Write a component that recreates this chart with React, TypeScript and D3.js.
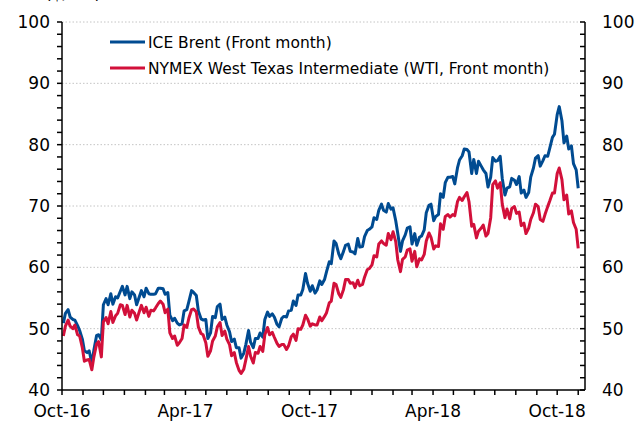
import React from "react";
import * as d3 from "d3";

// twice-weekly closes (Mon, Thu) from 3 Oct 2016 to 1 Nov 2018, $/bbl
const brent = [
  50.9, 52.5, 53.1, 51.9, 51.5, 51.4, 50.5, 49.7, 48.3, 46.4,
  46.1, 46.4, 44.4, 46.5, 48.9, 49.0, 48.2, 53.9,
  54.9, 53.9, 55.7, 54.0, 55.2, 55.0, 56.1, 56.9,
  55.5, 56.9, 54.9, 56.0, 55.5, 53.9, 55.2, 56.2, 55.2, 56.6,
  55.7, 55.6, 55.6, 55.7, 56.6, 56.6, 56.5, 55.6,
  55.9, 52.2, 51.3, 51.7, 50.9, 50.6, 50.8, 52.9,
  53.1, 54.4, 56.2, 55.9, 55.4, 52.9, 51.6, 51.4,
  51.5, 48.4, 49.3, 52.0, 51.8, 53.6, 54.0, 51.5, 51.9, 50.6,
  49.5, 47.9, 48.3, 46.9, 46.9, 45.2, 46.0, 47.4,
  49.7, 47.8, 46.9, 48.4, 48.4, 49.3, 48.6, 51.5, 52.7, 52.0,
  52.4, 51.9, 50.7, 50.3, 51.7, 52.0, 51.9, 52.9,
  53.0, 54.5, 53.8, 55.5, 55.5, 56.4, 59.0, 57.4,
  56.1, 57.0, 55.8, 56.3, 57.8, 57.2, 58.0, 59.3, 60.9, 60.6,
  64.3, 63.9, 62.2, 61.4, 62.6, 63.6, 63.8, 62.6,
  62.5, 62.2, 64.7, 63.3, 63.4, 65.0, 66.0, 66.2,
  66.6, 68.1, 67.8, 69.3, 70.3, 69.3, 69.0, 70.4, 69.5, 69.7,
  67.6, 65.5, 62.6, 64.3, 65.3, 66.4, 66.6, 63.8,
  65.5, 63.6, 64.9, 65.1, 66.1, 68.9, 70.1, 70.3,
  67.6, 68.3, 68.6, 72.0, 71.4, 73.8, 74.7, 74.7, 74.8, 73.6,
  76.2, 77.5, 78.2, 79.3, 79.2, 78.8, 75.3, 77.6,
  75.3, 77.3, 76.5, 75.9, 75.3, 73.1, 74.7, 77.9,
  77.3, 77.4, 78.1, 74.5, 71.8, 72.9, 73.1, 74.5, 74.2, 73.5,
  74.8, 72.1, 72.6, 71.4, 72.2, 74.7, 76.2, 77.8,
  78.2, 76.5, 77.4, 78.2, 78.1, 79.4, 81.2, 81.7,
  84.9, 86.2, 83.9, 80.3, 81.4, 79.3, 79.8, 76.9, 75.9, 72.9,
];

const wti = [
  48.8, 50.4, 51.4, 50.4, 50.0, 50.6, 49.0, 48.8, 46.9, 44.7,
  44.9, 45.0, 43.3, 45.4, 47.5, 47.9, 45.4, 51.1,
  51.8, 50.8, 52.8, 51.0, 52.1, 52.5, 53.9, 53.8,
  52.3, 53.8, 51.9, 53.0, 52.5, 51.4, 52.8, 53.8, 52.6, 53.5,
  52.0, 53.0, 52.9, 53.4, 54.1, 54.5, 54.0, 52.6,
  53.2, 49.3, 48.4, 48.8, 47.3, 47.7, 48.4, 50.6,
  50.2, 51.7, 53.1, 53.2, 52.7, 50.3, 49.2, 49.0,
  47.7, 45.5, 46.4, 48.0, 48.8, 50.3, 51.0, 48.9, 49.6, 48.3,
  47.4, 45.6, 46.1, 44.5, 43.2, 42.7, 43.4, 44.9,
  47.1, 45.5, 44.4, 46.1, 46.0, 47.1, 46.3, 49.0, 50.2, 49.0,
  49.4, 48.6, 47.6, 47.1, 47.4, 47.4, 46.6, 47.2,
  48.7, 49.1, 48.1, 50.0, 49.9, 50.6, 52.2, 51.6,
  50.4, 50.8, 50.6, 50.6, 51.9, 51.3, 52.0, 52.6, 54.2, 54.5,
  57.4, 57.2, 55.7, 55.1, 56.4, 58.0, 58.0, 57.4,
  57.5, 56.7, 57.9, 57.0, 57.2, 58.4, 59.6, 59.8,
  60.4, 61.9, 61.7, 63.8, 64.3, 63.9, 63.6, 65.5, 64.5, 65.8,
  64.2, 61.2, 59.3, 61.3, 61.7, 62.8, 63.0, 61.0,
  62.6, 60.1, 61.4, 61.2, 62.1, 64.3, 65.6, 64.9,
  63.0, 63.5, 63.4, 67.1, 66.2, 68.3, 68.6, 68.2, 68.6, 68.4,
  70.7, 71.4, 70.9, 71.5, 72.2, 70.7, 66.7, 67.0,
  64.8, 65.9, 66.4, 66.9, 65.1, 65.5, 68.1, 73.5,
  74.1, 72.9, 73.8, 70.3, 68.1, 69.5, 67.9, 69.6, 69.9, 68.8,
  69.0, 66.8, 67.2, 65.5, 66.4, 67.8, 68.9, 70.3,
  69.9, 67.8, 67.5, 68.6, 69.9, 70.8, 72.1, 72.1,
  75.3, 76.2, 74.3, 71.0, 71.8, 68.7, 69.2, 67.3, 66.2, 63.1,
];

const seriesNames = [
  "ICE Brent (Front month)",
  "NYMEX West Texas Intermediate (WTI, Front month)",
];
const yTicks = [40, 50, 60, 70, 80, 90, 100];
const labelMonths = [3, 9]; // Apr, Oct

const BLUE = "#004b91";
const RED = "#d2103a";
const FONT = "'DejaVu Sans', Arial, sans-serif";

const W = 638;
const H = 423;
const left = 62;
const right = 585;
const top = 22;
const bottom = 390;

const start = new Date(2016, 9, 3);
const dateAt = (i: number) =>
  d3.timeDay.offset(start, 7 * Math.floor(i / 2) + (i % 2) * 3);

export default function App() {
  const x = d3
    .scaleTime()
    .domain([new Date(2016, 9, 1), new Date(2018, 10, 11)])
    .range([left, right]);
  const y = d3.scaleLinear().domain([40, 100]).range([bottom, top]);

  const line = d3
    .line<number>()
    .x((_, i) => x(dateAt(i)))
    .y((v) => y(v));

  const months = d3.timeMonth.range(new Date(2016, 9, 1), new Date(2018, 10, 11));
  const minorY = d3.range(40, 100.1, 2);
  const fmt = d3.timeFormat("%b-%y");

  return (
    <svg
      width={W}
      height={H}
      style={{ position: "absolute", left: 0, top: 0, background: "#fff" }}
      fontFamily={FONT}
    >
      <text x={45} y={-1} fontSize={17} fill="#000">
        ($/bbl)
      </text>

      {/* grid */}
      {yTicks.slice(1).map((t) => (
        <line
          key={t}
          x1={left}
          x2={right}
          y1={y(t)}
          y2={y(t)}
          stroke="#c4c4c4"
          strokeWidth={1}
          strokeDasharray="1.5,2"
        />
      ))}

      {/* series */}
      <path d={line(brent) ?? ""} fill="none" stroke={BLUE} strokeWidth={3} strokeLinejoin="round" />
      <path d={line(wti) ?? ""} fill="none" stroke={RED} strokeWidth={3} strokeLinejoin="round" />

      {/* axes */}
      <g stroke="#000" strokeWidth={1.5}>
        <line x1={left} x2={left} y1={top} y2={bottom} />
        <line x1={right} x2={right} y1={top} y2={bottom} />
        <line x1={left} x2={right} y1={bottom} y2={bottom} />
        {minorY.map((t) => (
          <g key={t}>
            <line x1={left - 5} x2={left} y1={y(t)} y2={y(t)} />
            <line x1={right - 5} x2={right} y1={y(t)} y2={y(t)} />
          </g>
        ))}
        {months.map((m) => (
          <line key={+m} x1={x(m)} x2={x(m)} y1={bottom} y2={bottom + 5} />
        ))}
      </g>

      {yTicks.map((t) => (
        <g key={t} fontSize={17} fill="#000">
          <text x={left - 12} y={y(t)} textAnchor="end" dominantBaseline="central">
            {t}
          </text>
          <text x={right + 17} y={y(t)} dominantBaseline="central">
            {t}
          </text>
        </g>
      ))}

      {months
        .filter((m) => labelMonths.includes(m.getMonth()))
        .map((m) => (
          <text key={+m} x={x(m)} y={417} textAnchor="middle" fontSize={17} fill="#000">
            {fmt(m)}
          </text>
        ))}

      {/* legend */}
      {seriesNames.map((name, i) => (
        <g key={name}>
          <line
            x1={110}
            x2={145}
            y1={42 + i * 26}
            y2={42 + i * 26}
            stroke={i === 0 ? BLUE : RED}
            strokeWidth={3}
          />
          <text x={148} y={48 + i * 26} fontSize={15.5} fill="#000">
            {name}
          </text>
        </g>
      ))}
    </svg>
  );
}
